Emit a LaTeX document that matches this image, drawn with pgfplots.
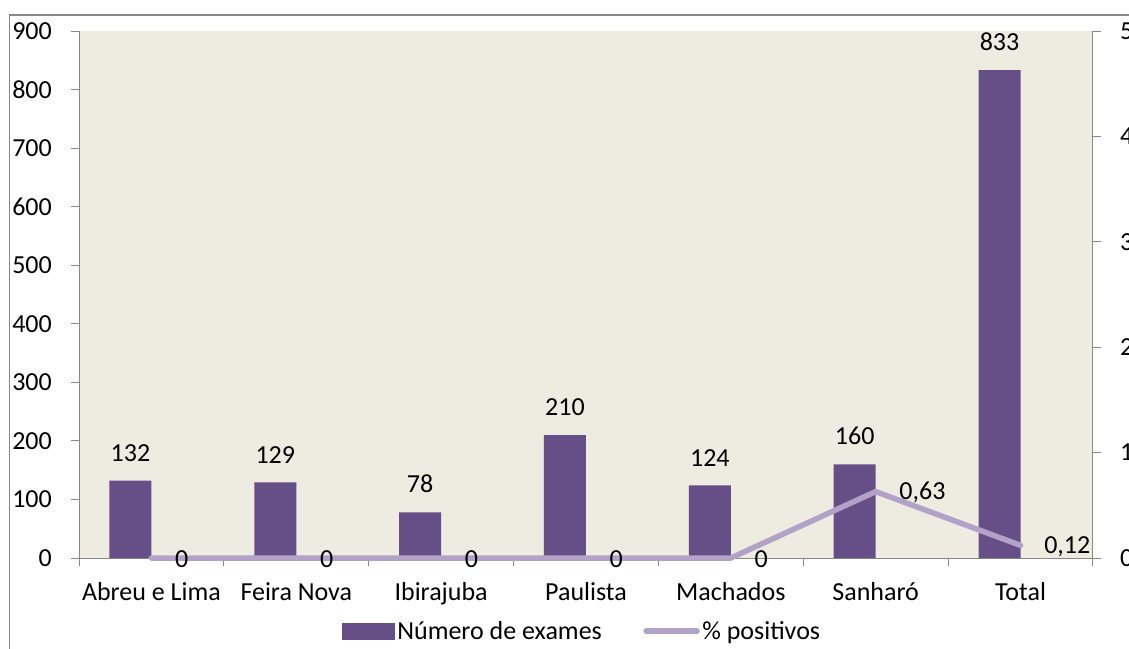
\documentclass[border=0pt]{standalone}
\usepackage{pgfplots}
\pgfplotsset{compat=1.18}
\usepackage{fontspec}
\setmainfont{Carlito}
\definecolor{barc}{HTML}{664F86}
\definecolor{linec}{HTML}{B3A2C7}
\definecolor{bgc}{HTML}{EEEBE0}
\definecolor{axc}{HTML}{888888}
\begin{document}
\begin{tikzpicture}[font=\fontsize{26}{31}\selectfont]
\useasboundingbox (0pt,0pt) rectangle (1129pt,648pt);
\clip (0pt,0pt) rectangle (1129pt,648pt);
\fill[white] (0pt,0pt) rectangle (1129pt,648pt);
\draw[axc, line width=1.3pt] (9.5pt,633pt) rectangle (1200pt,-50pt);
\begin{axis}[
  at={(79pt,90pt)}, anchor=south west,
  scale only axis, width=1014pt, height=527pt,
  xmin=-0.5, xmax=6.5, ymin=0, ymax=900,
  ytick={0,100,...,900},
  /pgf/number format/assume math mode=true,
  axis background/.style={fill=bgc},
  axis y line*=left, axis x line*=bottom,
  axis line style={draw=axc, line width=1pt, -},
  tick style={draw=axc, line width=1pt},
  tick align=outside, major tick length=8pt,
  xtick={-0.5,0.5,1.5,2.5,3.5,4.5,5.5,6.5},
  xticklabels={},
  extra x ticks={0,1,2,3,4,5,6},
  extra x tick labels={Abreu e Lima,Feira Nova,Ibirajuba,Paulista,Machados,Sanharó,Total},
  extra x tick style={major tick length=0pt},
  xticklabel style={inner sep=0pt, anchor=north, yshift=-24pt},
  yticklabel style={inner sep=0pt, anchor=east, xshift=-19pt},
  ybar, bar width=42pt, bar shift=-21pt,
  nodes near coords,
  every node near coord/.append style={anchor=south, inner sep=0pt, yshift=19pt, text=black},
]
\addplot[fill=barc, draw=none] coordinates {(0,132) (1,129) (2,78) (3,210) (4,124) (5,160) (6,833)};
\end{axis}
\begin{axis}[
  at={(79pt,90pt)}, anchor=south west,
  scale only axis, width=1014pt, height=527pt,
  xmin=-0.5, xmax=6.5, ymin=0, ymax=5,
  ytick={0,1,...,5},
  /pgf/number format/assume math mode=true,
  /pgf/number format/use comma,
  axis y line*=right, axis x line=none,
  axis line style={draw=axc, line width=1pt, -},
  tick style={draw=axc, line width=1pt},
  tick align=outside, major tick length=8pt,
  yticklabel style={inner sep=0pt, anchor=west, xshift=19pt},
  clip=false,
  legend columns=2,
  legend style={at={(0.4966,-0.1385)}, anchor=center, draw=none, fill=none,
    font=\fontsize{26}{31}\selectfont,
    nodes={inner sep=2.5pt},
    /tikz/every even column/.append style={column sep=39pt}},
]
\addlegendimage{legend image code/.code={\fill[barc] (0pt,-8pt) rectangle (52pt,8pt);}}
\addlegendentry{Número de exames}
\addplot[linec, line width=5.5pt, line cap=round, line join=round,
  legend image code/.code={\draw[linec, line width=5.5pt, line cap=round] (2.5pt,0pt) -- (53.5pt,0pt);},
  nodes near coords,
  every node near coord/.append style={anchor=west, inner sep=0pt, xshift=21pt, yshift=-1pt, text=black}]
  coordinates {(0,0) (1,0) (2,0) (3,0) (4,0) (5,0.63) (6,0.12)};
\addlegendentry{\% positivos}
\end{axis}
\end{tikzpicture}
\end{document}
